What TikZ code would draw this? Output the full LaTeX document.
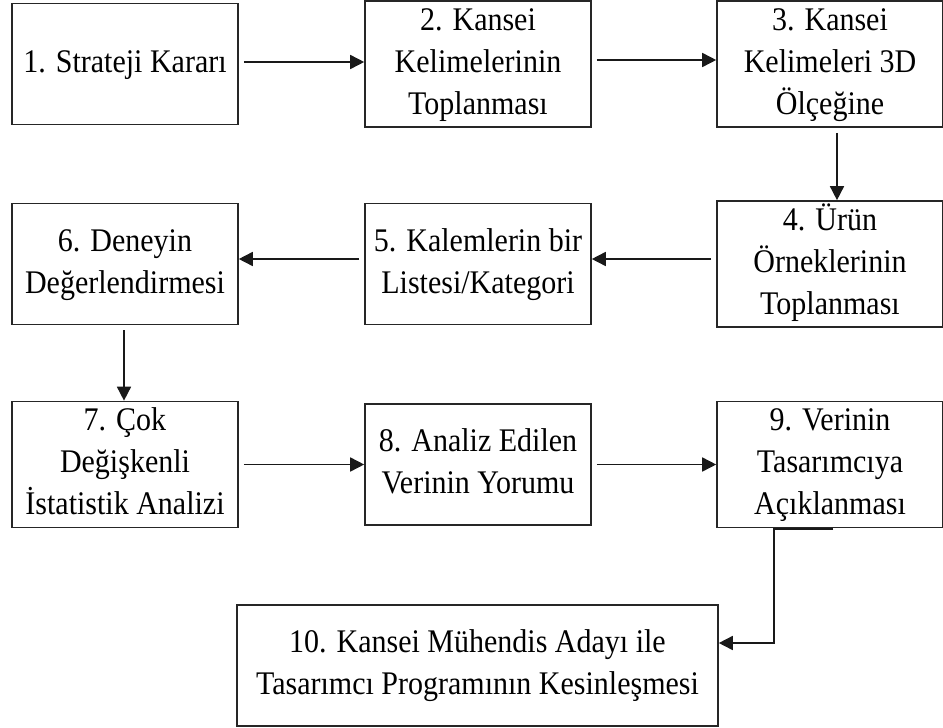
\documentclass[tikz,border=0pt]{standalone}
\usepackage{fontspec}
\setmainfont{Liberation Serif}
\usetikzlibrary{arrows.meta}
\newcommand{\boxtext}[1]{\scalebox{1}[1.1]{\begin{tabular}{@{}c@{}}#1\end{tabular}}}
\tikzset{
  stepbox/.style={draw=black!85, line width=1.6pt, inner sep=0pt,
    minimum width=226pt, minimum height=121pt,
    font=\fontsize{30}{38.2}\selectfont},
  widebox/.style={stepbox, minimum width=481pt},
  arr/.style={draw=black!90, line width=1.6pt,
    -{Triangle[length=14pt,width=14pt]}, shorten <=5pt},
}
\begin{document}
\begin{tikzpicture}[x=1pt,y=-1pt]
\useasboundingbox[fill=white] (0,0) rectangle (943,728);

% row 1
\node[stepbox] (n1) at (125,64)   {\boxtext{1. Strateji Kararı}};
\node[stepbox] (n2) at (478,64)   {\boxtext{2. Kansei\\Kelimelerinin\\Toplanması}};
\node[stepbox] (n3) at (830,64)   {\boxtext{3. Kansei\\Kelimeleri 3D\\Ölçeğine}};
% row 2
\node[stepbox] (n6) at (125,264)  {\boxtext{6. Deneyin\\Değerlendirmesi}};
\node[stepbox] (n5) at (478,264)  {\boxtext{5. Kalemlerin bir\\Listesi/Kategori}};
\node[stepbox] (n4) at (830,264)  {\boxtext{4. Ürün\\Örneklerinin\\Toplanması}};
% row 3
\node[stepbox] (n7) at (125,464.5) {\boxtext{7. Çok\\Değişkenli\\İstatistik Analizi}};
\node[stepbox] (n8) at (478,464.5) {\boxtext{8. Analiz Edilen\\Verinin Yorumu}};
\node[stepbox] (n9) at (830,464.5) {\boxtext{9. Verinin\\Tasarımcıya\\Açıklanması}};
% final step
\node[widebox] (n10) at (477.5,665.5) {\boxtext{10. Kansei Mühendis Adayı ile\\Tasarımcı Programının Kesinleşmesi}};

% connectors
\draw[arr] ([yshift=2pt]n1.east) -- ([yshift=2pt]n2.west);
\draw[arr] ([yshift=4pt]n2.east) -- ([yshift=4pt]n3.west);
\draw[arr] ([xshift=7pt]n3.south) -- ([xshift=7pt]n4.north);
\draw[arr] ([yshift=5pt]n4.west) -- ([yshift=5pt]n5.east);
\draw[arr] ([yshift=5pt]n5.west) -- ([yshift=5pt]n6.east);
\draw[arr] ([xshift=-1pt]n6.south) -- ([xshift=-1pt]n7.north);
\draw[arr] (n7.east) -- (n8.west);
\draw[arr] (n8.east) -- (n9.west);

\coordinate (t9) at (833,529);
\coordinate (k9) at (774,529);
\coordinate (in10) at (n10.east |- 0,643);
\draw[arr, shorten <=0pt] (t9) -- (k9) |- (in10);
\end{tikzpicture}
\end{document}
